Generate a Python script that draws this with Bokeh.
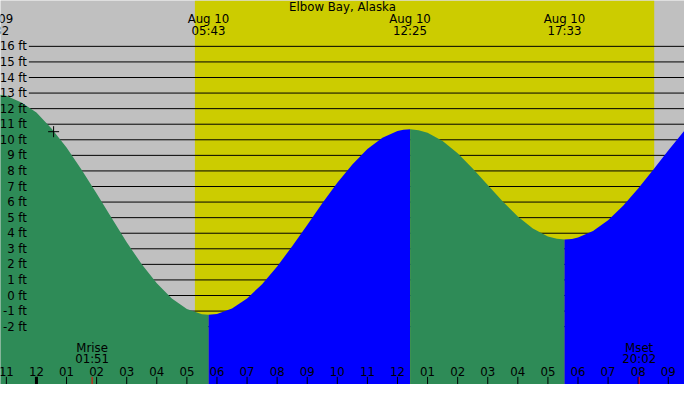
from bokeh.plotting import figure
from bokeh.models import Range1d
from bokeh.embed import file_html
from bokeh.resources import INLINE
from bokeh.core.properties import value

title = "Elbow Bay, Alaska"

# tide readings, hours from Aug 10 00:00 (negative = Aug 9), height in feet
tide_hours = [-1.46, -1.0, -0.5, 0.0, 0.5, 1.0, 1.5, 2.0, 2.5, 3.0, 3.5, 4.0, 4.5, 5.0, 5.5, 5.72,
              6.0, 6.5, 7.0, 7.5, 8.0, 8.5, 9.0, 9.5, 10.0, 10.5, 11.0, 11.5, 12.0, 12.2, 12.42,
              12.7, 13.0, 13.5, 14.0, 14.5, 15.0, 15.5, 16.0, 16.5, 17.0, 17.3, 17.55,
              17.8, 18.0, 18.5, 19.0, 19.5, 20.0, 20.5, 21.0, 21.5, 22.0]
tide_feet = [12.95, 12.83, 12.40, 11.75, 10.72, 9.50, 8.08, 6.55, 4.98, 3.42, 2.00, 0.78, -0.20, -0.86, -1.20, -1.23,
             -1.18, -0.83, -0.19, 0.73, 1.87, 3.16, 4.53, 5.92, 7.24, 8.42, 9.41, 10.13, 10.56, 10.65, 10.67,
             10.62, 10.45, 9.92, 9.14, 8.16, 7.09, 6.03, 5.07, 4.30, 3.79, 3.64, 3.59,
             3.63, 3.72, 4.14, 4.84, 5.77, 6.87, 8.07, 9.31, 10.50, 11.56]

# high / low tides
extreme_days = [9, 10, 10, 10]
extreme_times = ["22:32", "05:43", "12:25", "17:33"]

# daylight and moon
sun_times = ["05:16", "20:32"]
moon_labels = ["Mrise", "Mset"]
moon_times = ["01:51", "20:02"]

# current reading marker
now_hour = 0.57
now_feet = 10.52

feet_ticks = list(range(-2, 17))
hour_ticks = list(range(-1, 22))

X0, X1 = -1.195, 21.54
Y0, Y1 = -5.715, 18.945
FONT = value("DejaVu Sans")
FSIZE = "11.75px"


def ref_x(px):
    return X0 + px * (X1 - X0) / 700


def ref_y(py):
    return Y1 - py * (Y1 - Y0) / 400


def to_hours(hhmm, day=10):
    hh, mm = hhmm.split(":")
    return int(hh) + int(mm) / 60 + (day - 10) * 24


p = figure(width=684, height=384, x_range=Range1d(X0, X1), y_range=Range1d(Y0, Y1),
           x_axis_location=None, y_axis_location=None,
           output_backend="svg", toolbar_location=None, tools="", min_border=0,
           background_fill_color="#c0c0c0", border_fill_color="#c0c0c0",
           outline_line_color=None)
p.grid.visible = False

# daylight band
p.quad(left=[to_hours(sun_times[0])], right=[to_hours(sun_times[1])],
       bottom=[Y0], top=[Y1], fill_color="#cccc00", line_color=None)

# horizontal feet lines
p.segment(x0=[ref_x(29)] * len(feet_ticks), x1=[X1] * len(feet_ticks),
          y0=feet_ticks, y1=feet_ticks, line_color="black", line_width=1)

# tide fill: green while falling, blue while rising
ext_hours = [to_hours(t, d) for t, d in zip(extreme_times, extreme_days)]
cuts = [min(range(len(tide_hours)), key=lambda k: abs(tide_hours[k] - e)) for e in ext_hours]
cuts.append(len(tide_hours) - 1)
for i in range(len(cuts) - 1):
    xs = tide_hours[cuts[i]:cuts[i + 1] + 1]
    ys = tide_feet[cuts[i]:cuts[i + 1] + 1]
    color = "#2e8b57" if i % 2 == 0 else "#0000ff"
    p.varea(x=xs, y1=Y0, y2=ys, fill_color=color)

p.scatter(x=[now_hour], y=[now_feet], marker="cross", size=11,
          line_color="black", line_width=1)

text_style = dict(text_baseline="middle", text_font=FONT, text_font_size=FSIZE,
                  text_color="black")

# title
p.text(x=[ref_x(350)], y=[ref_y(7)], text=[title], text_align="center", **text_style)

# high / low labels
p.text(x=ext_hours, y=[ref_y(19.5)] * len(ext_hours),
       text=["Aug %02d" % d for d in extreme_days], text_align="center", **text_style)
p.text(x=ext_hours, y=[ref_y(31.5)] * len(ext_hours), text=extreme_times,
       text_align="center", **text_style)

# feet labels
p.text(x=[ref_x(27)] * len(feet_ticks), y=feet_ticks, text=["%d ft" % f for f in feet_ticks],
       text_align="right", **text_style)

# hour labels and ticks
p.text(x=hour_ticks, y=[ref_y(386)] * len(hour_ticks),
       text=["%02d" % ((h % 12) or 12) for h in hour_ticks], text_align="center", **text_style)
p.segment(x0=hour_ticks, x1=hour_ticks, y0=[ref_y(392)] * len(hour_ticks),
          y1=[Y0] * len(hour_ticks), line_color="black",
          line_width=[3 if h == 0 else 1 for h in hour_ticks])

# moon rise / set
moon_x = [to_hours(t) for t in moon_times]
p.text(x=moon_x, y=[ref_y(362)] * 2, text=moon_labels, text_align="center", **text_style)
p.text(x=moon_x, y=[ref_y(373)] * 2, text=moon_times, text_align="center", **text_style)
p.segment(x0=moon_x, x1=moon_x, y0=[ref_y(392)] * 2, y1=[Y0] * 2,
          line_color="red", line_width=1)

open("out.html", "w").write(file_html(p, INLINE))
